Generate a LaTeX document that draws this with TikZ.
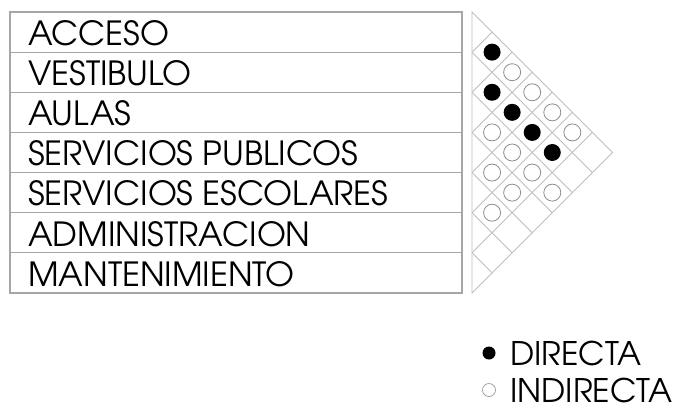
\documentclass[tikz,border=0pt]{standalone}
\usepackage{fontspec}
\setmainfont{TeX Gyre Adventor}
\begin{document}
\begin{tikzpicture}[x=1pt,y=-1pt,
  rowtext/.style={anchor=west,inner sep=0pt,font=\fontsize{33.3}{33.3}\selectfont},
  tabline/.style={draw=black!35,line width=1.1pt},
  gridline/.style={draw=black!25,line width=0.9pt},
  directa/.style={circle,fill=black,inner sep=0pt,minimum size=17pt},
  indirecta/.style={circle,draw=black!45,line width=0.8pt,fill=white,inner sep=0pt,minimum size=17pt},
  legdir/.style={circle,fill=black,inner sep=0pt,minimum size=13pt},
  legind/.style={circle,draw=black!40,line width=0.7pt,inner sep=0pt,minimum size=13pt},
  legtext/.style={anchor=west,inner sep=0pt,font=\fontsize{32.5}{32.5}\selectfont}]
\useasboundingbox (0,0) rectangle (675,408);
\def\T{12}\def\H{40.14}\def\X{472}
% table
\draw[tabline] (10,\T) rectangle (462,293);
\foreach \k in {1,...,6}{
  \draw[tabline] (10,{\T+\k*\H}) -- (462,{\T+\k*\H});
}
\foreach \txt [count=\i from 0] in {ACCESO,VESTIBULO,AULAS,SERVICIOS PUBLICOS,SERVICIOS ESCOLARES,ADMINISTRACION,MANTENIMIENTO}{
  \node[rowtext] (r\i) at (28,{\T+(\i+0.5)*\H+1}) {\txt};
}
% triangle matrix
\draw[gridline] (\X,\T) -- ({\X+3.5*\H},{\T+3.5*\H}) -- (\X,293) -- cycle;
\foreach \k in {1,...,6}{
  \pgfmathsetmacro\yk{\T+\k*\H}
  \pgfmathsetmacro\dd{(293-\yk)/2}
  \pgfmathsetmacro\du{(\yk-\T)/2}
  \draw[gridline] (\X,\yk) -- ({\X+\dd},{\yk+\dd});
  \draw[gridline] (\X,\yk) -- ({\X+\du},{\yk-\du});
}
% relations
\foreach \i/\j in {0/1,1/2,1/3,1/4,1/5}{
  \node[directa] (d\i\j) at ({\X+(\j-\i)*\H/2},{\T+(\i+\j+1)*\H/2}) {};
}
\foreach \i/\j in {0/2,0/3,0/4,0/5,2/3,2/4,2/5,2/6,3/4,3/5,4/5}{
  \node[indirecta] (n\i\j) at ({\X+(\j-\i)*\H/2},{\T+(\i+\j+1)*\H/2}) {};
}
% legend
\node[legdir] (ld) at (489,353) {};
\node[legtext] (lt1) at (510,353) {DIRECTA};
\node[legind] (li) at (489,390) {};
\node[legtext] (lt2) at (510,390) {INDIRECTA};
\end{tikzpicture}
\end{document}
